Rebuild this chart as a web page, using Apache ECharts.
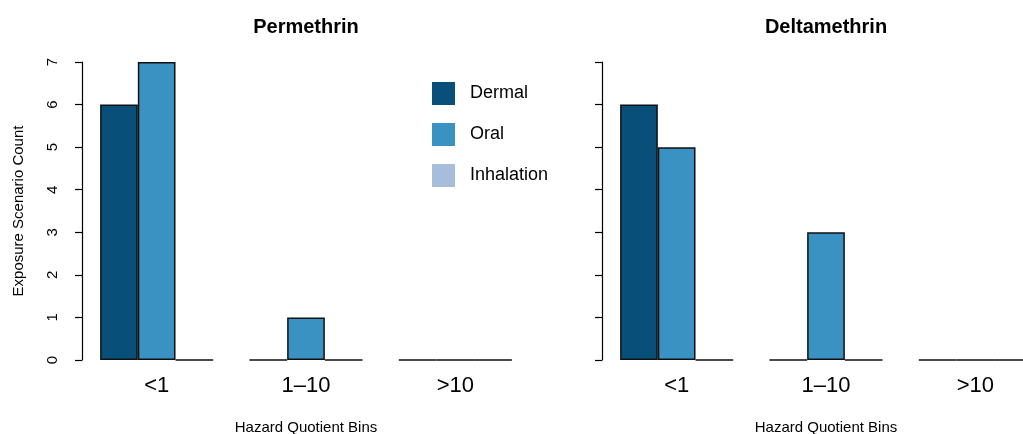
<!DOCTYPE html>
<html>
<head>
<meta charset="utf-8">
<script src="https://cdn.jsdelivr.net/npm/echarts@6/dist/echarts.min.js"></script>
<style>
html,body{margin:0;padding:0;background:#fff;overflow:hidden;}
#chart{width:1023px;height:434px;}
</style>
</head>
<body>
<div id="chart"></div>
<script>
var categories = ['<1', '1\u201310', '>10'];
var seriesNames = ['Dermal', 'Oral', 'Inhalation'];
var panelTitles = ['Permethrin', 'Deltamethrin'];
var yTicks = [0, 1, 2, 3, 4, 5, 6, 7];
var permethrinDermal = [6, 0, 0];
var permethrinOral = [7, 1, 0];
var permethrinInhalation = [0, 0, 0];
var deltamethrinDermal = [6, 0, 0];
var deltamethrinOral = [5, 3, 0];
var deltamethrinInhalation = [0, 0, 0];

var colors = ['#08507A', '#3A92C2', '#A6BDDB'];
var FONT = '"Liberation Sans", Arial, Helvetica, sans-serif';
var panelData = [
  [permethrinDermal, permethrinOral, permethrinInhalation],
  [deltamethrinDermal, deltamethrinOral, deltamethrinInhalation]
];
var gridLefts = [82, 602];
var gridW = 448;

var chart = echarts.init(document.getElementById('chart'), null, {renderer: 'canvas'});

var grids = [], xAxes = [], yAxes = [], series = [], titles = [];
for (var p = 0; p < 2; p++) {
  grids.push({left: gridLefts[p], top: 62, width: gridW, height: 298, containLabel: false, outerBoundsMode: 'none'});
  titles.push({
    text: panelTitles[p], left: gridLefts[p] + gridW / 2, top: 17, textAlign: 'center', padding: 0,
    textStyle: {fontFamily: FONT, fontSize: 20, fontWeight: 'bold', color: '#000'}
  });
  xAxes.push({
    type: 'category', gridIndex: p, data: categories,
    axisLine: {show: false}, axisTick: {show: false},
    axisLabel: {fontFamily: FONT, fontSize: 22, color: '#000', margin: 15},
    name: 'Hazard Quotient Bins', nameLocation: 'middle', nameGap: 60,
    nameTextStyle: {fontFamily: FONT, fontSize: 15, color: '#000'}
  });
  yAxes.push({
    type: 'value', gridIndex: p, min: yTicks[0], max: yTicks[yTicks.length - 1], interval: 1,
    splitLine: {show: false},
    axisLine: {show: true, lineStyle: {color: '#000', width: 1.2}},
    axisTick: {show: true, length: 7, lineStyle: {color: '#000', width: 1.2}},
    axisLabel: {show: p === 0, rotate: 90, fontFamily: FONT, fontSize: 15, color: '#000', margin: 22},
    name: p === 0 ? 'Exposure Scenario Count' : '', nameLocation: 'middle', nameRotate: 90, nameGap: 56,
    nameTextStyle: {fontFamily: FONT, fontSize: 15, color: '#000'}
  });
  for (var s = 0; s < 3; s++) {
    series.push({
      type: 'bar', name: seriesNames[s], xAxisIndex: p, yAxisIndex: p,
      data: panelData[p][s], barWidth: 37.7, barGap: '0%',
      itemStyle: {color: colors[s], borderColor: '#111', borderWidth: 1.5},
      emphasis: {disabled: true}, animation: false
    });
  }
}

chart.setOption({
  animation: false,
  color: colors,
  title: titles,
  legend: {
    orient: 'vertical', left: 432, top: 82, itemWidth: 23, itemHeight: 23, itemGap: 18, padding: 0,
    icon: 'rect', data: seriesNames,
    itemStyle: {borderWidth: 0},
    textStyle: {fontFamily: FONT, fontSize: 18, color: '#000', padding: [0, 0, 0, 10]}
  },
  grid: grids, xAxis: xAxes, yAxis: yAxes, series: series
});
</script>
</body>
</html>
